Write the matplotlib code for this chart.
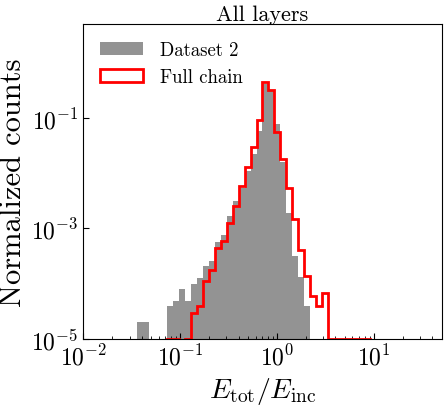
import numpy as np
import matplotlib
matplotlib.use("Agg")
import matplotlib.pyplot as plt
from matplotlib.ticker import NullLocator, NullFormatter, FixedLocator

plt.rcParams["font.family"] = "serif"
plt.rcParams["font.serif"] = ["cmr10"]
plt.rcParams["mathtext.fontset"] = "cm"
plt.rcParams["axes.formatter.use_mathtext"] = True

# ---- data: log-spaced bins, normalized counts per bin index -----------------
bin_edges = np.logspace(-2, np.log10(50), 61)

dataset_bins = [9, 10, 14, 15, 16, 17, 18, 19, 20, 21, 22, 23, 24, 25, 26,
                27, 28, 29, 30, 31, 32, 33, 34, 35, 36, 37]
dataset_vals = [2.0e-5, 2.0e-5, 4.0e-5, 4.9e-5, 7.9e-5, 4.9e-5, 9.8e-5,
                1.26e-4, 2.1e-4, 2.6e-4, 5.6e-4, 7.6e-4, 1.66e-3, 3.2e-3,
                5.5e-3, 1.1e-2, 2.2e-2, 5.9e-2, 0.41, 0.32, 7.8e-2, 1.6e-2,
                1.9e-3, 3.2e-4, 1.3e-4, 4.0e-5]

chain_bins = [14, 15, 17, 18, 19, 20, 21, 22, 23, 24, 25, 26, 27, 28, 29,
              30, 31, 32, 33, 34, 35, 36, 37, 38, 39, 40, 41, 42, 43, 44,
              45, 46, 47]
chain_vals = [1e-5, 1e-5, 1e-5, 3.0e-5, 4.0e-5, 1.12e-4, 1.8e-4, 4.5e-4,
              6.0e-4, 1.26e-3, 2.6e-3, 5.8e-3, 1.3e-2, 3.0e-2, 9.3e-2, 0.44,
              0.32, 5.6e-2, 1.8e-2, 5.4e-3, 1.5e-3, 4.1e-4, 1.4e-4, 5.9e-5,
              4.0e-5, 6.9e-5, 1e-5, 1e-5, 1e-5, 1e-5, 1e-5, 1e-5, 1e-5]

centers = np.sqrt(bin_edges[:-1] * bin_edges[1:])

fig = plt.figure(figsize=(4.44, 4.06), dpi=100)
ax = fig.add_axes([0.1876, 0.1626, 0.8072, 0.7758])

ax.hist(centers[dataset_bins], bins=bin_edges, weights=dataset_vals,
        histtype="stepfilled", color="#939393", label="Dataset 2")
ax.hist(centers[chain_bins], bins=bin_edges, weights=chain_vals,
        histtype="step", color="red", linewidth=2, label="Full chain")

ax.set_xscale("log")
ax.set_yscale("log")
ax.set_xlim(1e-2, 50)
ax.set_ylim(1e-5, 5)

ax.yaxis.set_major_locator(FixedLocator([1e-5, 1e-3, 1e-1]))
ax.yaxis.set_minor_locator(NullLocator())
ax.xaxis.set_minor_formatter(NullFormatter())
ax.tick_params(which="both", direction="in", labelsize=17)
ax.tick_params(which="major", length=4)
ax.tick_params(which="minor", length=2)

ax.set_xlabel(r"$E_{\rm tot}/E_{\rm inc}$", fontsize=20)
ax.set_ylabel("Normalized counts", fontsize=22, labelpad=3)
ax.set_title("All layers", fontsize=16, pad=2)
ax.legend(loc="upper left", frameon=False, fontsize=13.5,
          handlelength=2.3, handletextpad=0.9)

fig.savefig("out.png", dpi=100)
